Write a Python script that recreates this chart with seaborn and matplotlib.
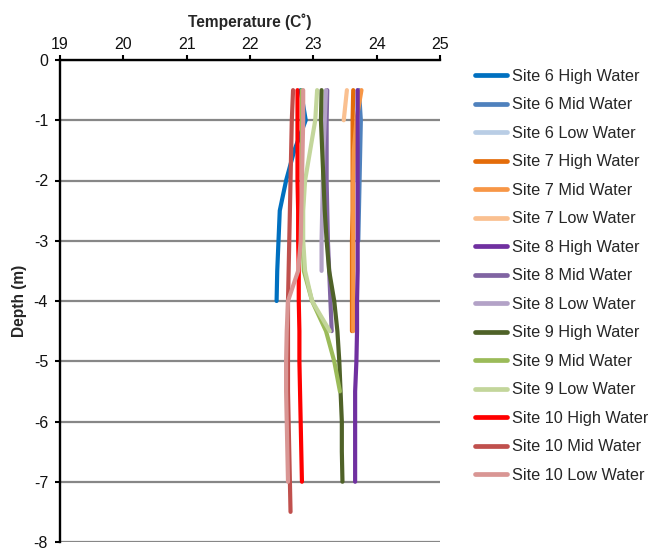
import matplotlib
matplotlib.use("Agg")
import matplotlib.pyplot as plt
import seaborn as sns
import pandas as pd

# Temperature profiles (deg C) against depth (m)
site6_high_depth = [-0.5, -1, -1.5, -2, -2.5, -3, -3.5, -4]
site6_high_temp = [22.80, 22.88, 22.70, 22.57, 22.47, 22.45, 22.43, 22.42]

site6_mid_depth = [-0.5, -1, -1.5, -2, -2.5, -3]
site6_mid_temp = [23.72, 23.75, 23.74, 23.73, 23.72, 23.71]

site6_low_depth = [-0.5, -1, -1.5, -2]
site6_low_temp = [23.70, 23.70, 23.69, 23.69]

site7_high_depth = [-0.5, -1, -1.5, -2, -2.5, -3, -3.5, -4, -4.5]
site7_high_temp = [23.63, 23.62, 23.62, 23.62, 23.62, 23.61, 23.61, 23.61, 23.61]

site7_mid_depth = [-0.5, -1, -1.5, -2, -2.5, -3, -3.5, -4, -4.5]
site7_mid_temp = [23.76, 23.68, 23.64, 23.63, 23.63, 23.63, 23.63, 23.63, 23.63]

site7_low_depth = [-0.5, -1]
site7_low_temp = [23.53, 23.48]

site8_high_depth = [-0.5, -1, -1.5, -2, -2.5, -3, -3.5, -4, -4.5, -5, -5.5, -6, -6.5, -7]
site8_high_temp = [23.70, 23.70, 23.70, 23.70, 23.70, 23.70, 23.70, 23.69, 23.69, 23.68,
                   23.66, 23.66, 23.66, 23.66]

site8_mid_depth = [-0.5, -1, -1.5, -2, -2.5, -3, -3.5, -4, -4.5]
site8_mid_temp = [23.22, 23.21, 23.21, 23.21, 23.22, 23.23, 23.25, 23.27, 23.29]

site8_low_depth = [-0.5, -1, -1.5, -2, -2.5, -3, -3.5]
site8_low_temp = [23.20, 23.18, 23.16, 23.15, 23.14, 23.13, 23.13]

site9_high_depth = [-0.5, -1, -1.5, -2, -2.5, -3, -3.5, -4, -4.5, -5, -5.5, -6, -6.5, -7]
site9_high_temp = [23.13, 23.12, 23.14, 23.16, 23.18, 23.21, 23.25, 23.33, 23.38, 23.41,
                   23.43, 23.45, 23.45, 23.46]

site9_mid_depth = [-0.5, -1, -1.5, -2, -2.5, -3, -3.5, -4, -4.5, -5, -5.5]
site9_mid_temp = [22.82, 22.82, 22.82, 22.82, 22.82, 22.83, 22.85, 22.98, 23.20, 23.33, 23.42]

site9_low_depth = [-0.5, -1, -1.5, -2, -2.5, -3, -3.5, -4, -4.5]
site9_low_temp = [23.06, 23.03, 22.95, 22.87, 22.84, 22.84, 22.87, 22.98, 23.26]

site10_high_depth = [-0.5, -1, -1.5, -2, -2.5, -3, -3.5, -4, -4.5, -5, -5.5, -6, -6.5, -7]
site10_high_temp = [22.75, 22.75, 22.75, 22.75, 22.76, 22.76, 22.77, 22.77, 22.78, 22.78,
                    22.79, 22.80, 22.81, 22.82]

site10_mid_depth = [-0.5, -1, -1.5, -2, -2.5, -3, -3.5, -4, -4.5, -5, -5.5, -6, -6.5, -7, -7.5]
site10_mid_temp = [22.68, 22.66, 22.65, 22.64, 22.63, 22.62, 22.61, 22.60, 22.60, 22.60,
                   22.60, 22.61, 22.62, 22.63, 22.64]

site10_low_depth = [-0.5, -1, -1.5, -2, -2.5, -3, -3.5, -4, -4.5, -5, -5.5, -6, -6.5, -7]
site10_low_temp = [22.84, 22.84, 22.83, 22.82, 22.81, 22.80, 22.76, 22.60, 22.58, 22.57,
                   22.57, 22.58, 22.59, 22.60]

series_labels = [
    "Site 6 High Water", "Site 6 Mid Water", "Site 6 Low Water",
    "Site 7 High Water", "Site 7 Mid Water", "Site 7 Low Water",
    "Site 8 High Water", "Site 8 Mid Water", "Site 8 Low Water",
    "Site 9 High Water", "Site 9 Mid Water", "Site 9 Low Water",
    "Site 10 High Water", "Site 10 Mid Water", "Site 10 Low Water",
]
series_depths = [
    site6_high_depth, site6_mid_depth, site6_low_depth,
    site7_high_depth, site7_mid_depth, site7_low_depth,
    site8_high_depth, site8_mid_depth, site8_low_depth,
    site9_high_depth, site9_mid_depth, site9_low_depth,
    site10_high_depth, site10_mid_depth, site10_low_depth,
]
series_temps = [
    site6_high_temp, site6_mid_temp, site6_low_temp,
    site7_high_temp, site7_mid_temp, site7_low_temp,
    site8_high_temp, site8_mid_temp, site8_low_temp,
    site9_high_temp, site9_mid_temp, site9_low_temp,
    site10_high_temp, site10_mid_temp, site10_low_temp,
]
series_colors = [
    "#0070C0", "#4F81BD", "#B9CDE5",
    "#E46C0A", "#F79646", "#FAC090",
    "#7030A0", "#8064A2", "#B3A2C7",
    "#4F6228", "#9BBB59", "#C3D69B",
    "#FF0000", "#C0504D", "#D99694",
]

rows = []
for label, depths, temps in zip(series_labels, series_depths, series_temps):
    for d, t in zip(depths, temps):
        rows.append({"Series": label, "Depth": d, "Temperature": t})
df = pd.DataFrame(rows)

sns.set_theme(style="white")
plt.rcParams["font.family"] = ["Liberation Sans", "DejaVu Sans"]

fig = plt.figure(figsize=(6.48, 5.51), dpi=100)
ax = fig.add_axes([60 / 648, 1 - 542 / 551, 380 / 648, 482 / 551])

sns.lineplot(
    data=df, x="Temperature", y="Depth", hue="Series",
    hue_order=series_labels, palette=series_colors,
    sort=False, estimator=None, orient="y",
    linewidth=3.0, ax=ax, legend=False,
)
for line in ax.get_lines():
    line.set_solid_capstyle("round")
    line.set_solid_joinstyle("round")

ax.set_xlim(19, 25)
ax.set_ylim(-8, 0)
ax.set_xticks(range(19, 26))
ax.set_yticks(range(-8, 1))
ax.xaxis.tick_top()
ax.xaxis.set_label_position("top")
ax.set_xlabel("Temperature (C˚)", fontsize=11.2, fontweight="bold", labelpad=7)
ax.set_ylabel("Depth (m)", fontsize=11.2, fontweight="bold", labelpad=5)

ax.grid(axis="y", color="#878787", linewidth=1.6)
ax.grid(axis="x", visible=False)
ax.set_axisbelow(True)
for side in ("right", "bottom"):
    ax.spines[side].set_visible(False)
for side in ("left", "top"):
    ax.spines[side].set_color("black")
    ax.spines[side].set_linewidth(1.7)
    ax.spines[side].set_zorder(5)

ax.tick_params(axis="x", which="major", top=True, bottom=False, direction="out",
               length=3.6, width=1.5, color="black", labelsize=11.5, pad=2.5,
               labelcolor="#111111")
ax.tick_params(axis="y", which="major", left=True, direction="out",
               length=3.6, width=1.5, color="black", labelsize=11.5, pad=5,
               labelcolor="#111111")
ax.set_yticklabels([str(v) for v in range(-8, 1)])

handles = [plt.Line2D([0], [0], color=c, linewidth=3.4) for c in series_colors]
ax.legend(handles, series_labels, loc="upper left",
          bbox_to_anchor=(475 / 648, 1 - 69 / 551), bbox_transform=fig.transFigure,
          frameon=False, fontsize=11.7, handlelength=1.97, handletextpad=0.3,
          labelspacing=0.83, borderaxespad=0, borderpad=0)

fig.savefig("out.png", dpi=100, facecolor="white")
